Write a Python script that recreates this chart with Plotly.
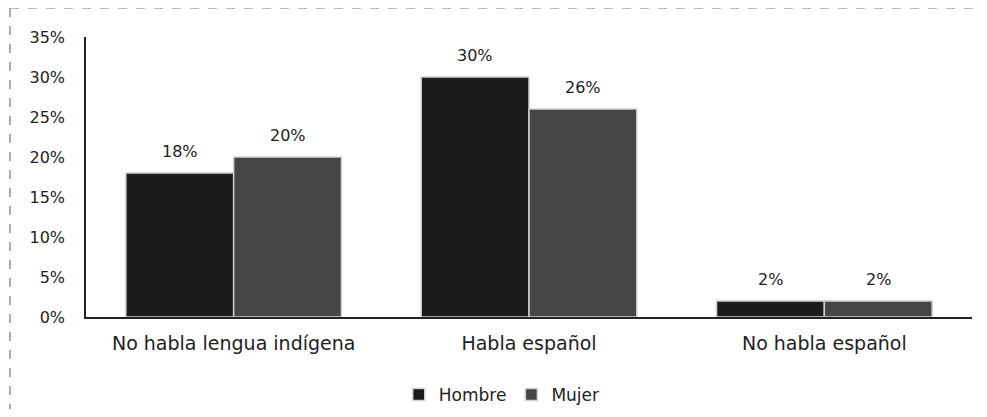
import plotly.graph_objects as go

categories = ["No habla lengua indígena", "Habla español", "No habla español"]
hombre = [18, 30, 2]
mujer = [20, 26, 2]
series_names = ["Hombre", "Mujer"]
tick_vals = [0, 5, 10, 15, 20, 25, 30, 35]
tick_text = [f"{v}%" for v in tick_vals]

FONT = "'DejaVu Sans', sans-serif"
colors = ["#1b1b1b", "#464646"]
offsets = [-54, 54]

fig = go.Figure()
annotations = []
for name, vals, col, off in zip(series_names, [hombre, mujer], colors, offsets):
    fig.add_trace(go.Bar(
        name=name, x=categories, y=vals,
        marker=dict(color=col, line=dict(color="#d0d0d0", width=1.5)),
    ))
    for c, v in zip(categories, vals):
        annotations.append(dict(x=c, y=v, xref="x", yref="y", text=f"{v}%",
                                showarrow=False, xshift=off, yshift=22,
                                font=dict(size=16, family=FONT, color="#222")))

# page body has an 8px margin: compensate
fig.update_layout(
    width=971, height=401,
    paper_bgcolor="white", plot_bgcolor="white",
    margin=dict(l=78, r=7, t=29, b=92, autoexpand=False),
    barmode="group", bargap=0.27, bargroupgap=0,
    font=dict(family=FONT, color="#222"),
    showlegend=True,
    legend=dict(orientation="h", x=0.353, xanchor="left", yref="container",
                y=0.035, yanchor="middle",
                font=dict(size=17, family=FONT), itemwidth=30),
    xaxis=dict(showline=True, linecolor="#222", linewidth=1.5, ticks="",
               tickfont=dict(size=19, family=FONT), showgrid=False,
               ticklabelstandoff=8, automargin=False),
    yaxis=dict(range=[0, 35], tickvals=tick_vals, ticktext=tick_text,
               showline=True, linecolor="#222", linewidth=1.5, showgrid=False,
               zeroline=False, tickfont=dict(size=16, family=FONT), ticks="",
               ticklabelstandoff=16, automargin=False),
    annotations=annotations,
    shapes=[
        dict(type="line", xref="paper", yref="paper", x0=-0.0858, x1=1.02, y0=1.1036, y1=1.1036,
             line=dict(color="#777", width=1.2, dash="dash")),
        dict(type="line", xref="paper", yref="paper", x0=-0.0858, x1=-0.0858, y0=1.1036, y1=-0.36,
             line=dict(color="#777", width=1.2, dash="dash")),
    ],
)
fig.write_html("out.html")
